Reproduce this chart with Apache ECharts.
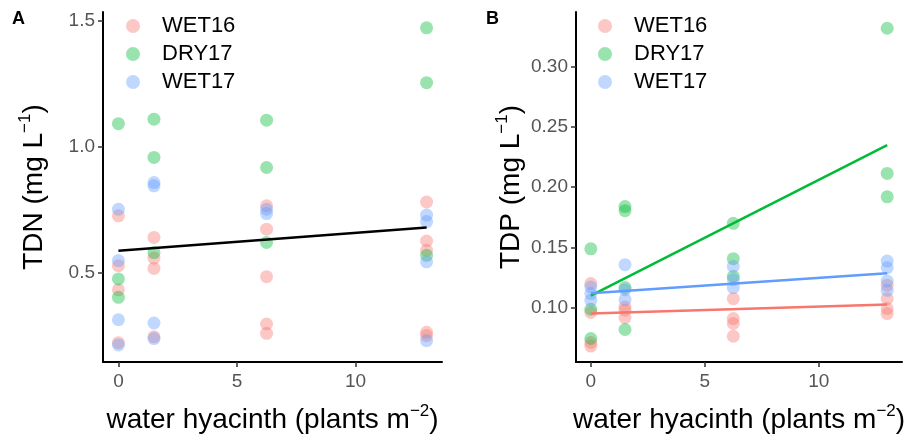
<!DOCTYPE html>
<html>
<head>
<meta charset="utf-8">
<script src="https://cdn.jsdelivr.net/npm/echarts@6/dist/echarts.min.js"></script>
<style>
  html, body { margin: 0; padding: 0; background: #fff; }
  #chart { width: 909px; height: 441px; }
</style>
</head>
<body>
<div id="chart"></div>
<script>
var seasons = ['WET16', 'DRY17', 'WET17'];
var colors = ['rgba(248,118,109,0.5)', 'rgba(0,186,56,0.5)', 'rgba(97,156,255,0.5)'];
var lineColors = ['#F8766D', '#00BA38', '#619CFF'];

// plants m-2 : 0, 1.5, 6.25, 13
var xTicks = [0, 5, 10];

// panel A, TDN (mg/L), [density, value]
var tdnWet16 = [[0,0.726],[0,0.528],[0,0.432],[0,0.222],
                [1.5,0.640],[1.5,0.558],[1.5,0.517],[1.5,0.245],
                [6.25,0.766],[6.25,0.673],[6.25,0.484],[6.25,0.296],[6.25,0.259],
                [13,0.781],[13,0.626],[13,0.589],[13,0.263],[13,0.250]];
var tdnDry17 = [[0,1.092],[0,0.475],[0,0.402],
                [1.5,1.110],[1.5,0.958],[1.5,0.580],
                [6.25,1.106],[6.25,0.918],[6.25,0.620],
                [13,1.473],[13,1.255],[13,0.569]];
var tdnWet17 = [[0,0.752],[0,0.548],[0,0.313],[0,0.213],
                [1.5,0.858],[1.5,0.845],[1.5,0.300],[1.5,0.238],
                [6.25,0.752],[6.25,0.735],
                [13,0.729],[13,0.703],[13,0.543],[13,0.230]];
var tdnFit = [[0,0.587],[13,0.680]];
var tdnTicks = [0.5, 1.0, 1.5];

// panel B, TDP (mg/L)
var tdpWet16 = [[0,0.120],[0,0.096],[0,0.071],[0,0.068],
                [1.5,0.1005],[1.5,0.0978],[1.5,0.0917],
                [6.25,0.1074],[6.25,0.0909],[6.25,0.0868],[6.25,0.0762],
                [13,0.1185],[13,0.1074],[13,0.0992],[13,0.095]];
var tdpDry17 = [[0,0.1488],[0,0.0986],[0,0.0743],
                [1.5,0.1839],[1.5,0.1805],[1.5,0.1166],[1.5,0.0818],
                [6.25,0.170],[6.25,0.1406],[6.25,0.1259],
                [13,0.332],[13,0.2114],[13,0.192]];
var tdpWet17 = [[0,0.1171],[0,0.1116],[0,0.106],
                [1.5,0.1356],[1.5,0.1149],[1.5,0.1066],
                [6.25,0.1342],[6.25,0.1232],[6.25,0.1166],
                [13,0.1386],[13,0.1331],[13,0.122],[13,0.1143]];
var tdpFitWet16 = [[0,0.0950],[13,0.1026]];
var tdpFitDry17 = [[0,0.1100],[13,0.2350]];
var tdpFitWet17 = [[0,0.1120],[13,0.1286]];
var tdpTicks = [0.10, 0.15, 0.20, 0.25, 0.30];

var FONT = 'Liberation Sans';

var nameRich = {
    a: { fontFamily: FONT, fontSize: 28, color: '#000' },
    s: { fontFamily: FONT, fontSize: 17, color: '#000', padding: [0, 0, 18, 0] }
};

function xAxisFor(gi) {
    return {
        type: 'value', gridIndex: gi, min: -0.65, max: 13.65,
        name: '{a|water hyacinth (plants m}{s|−2}{a|)}',
        nameLocation: 'middle', nameGap: 41,
        nameTextStyle: { rich: nameRich },
        axisLine: { show: true, onZero: false, lineStyle: { color: '#000', width: 2 } },
        axisTick: { show: true, length: 5, lineStyle: { color: '#333', width: 1.5 }, customValues: xTicks },
        axisLabel: { fontFamily: FONT, fontSize: 19, color: '#555', margin: 10, customValues: xTicks },
        splitLine: { show: false }
    };
}

function yAxisFor(gi, label, lo, hi, ticks, digits, gap) {
    return {
        type: 'value', gridIndex: gi, min: lo, max: hi,
        name: '{a|' + label + ' (mg L}{s|−1}{a|)}',
        nameLocation: 'middle', nameGap: gap, nameRotate: 90,
        nameTextStyle: { rich: nameRich },
        axisLine: { show: true, onZero: false, lineStyle: { color: '#000', width: 2 } },
        axisTick: { show: true, length: 5, lineStyle: { color: '#333', width: 1.5 }, customValues: ticks },
        axisLabel: { fontFamily: FONT, fontSize: 19, color: '#555', margin: 8, customValues: ticks,
                     formatter: function (v) { return v.toFixed(digits); } },
        splitLine: { show: false }
    };
}

function pts(name, data, i, gi) {
    return {
        name: name, type: 'scatter', xAxisIndex: gi, yAxisIndex: gi,
        data: data, symbolSize: 13, itemStyle: { color: colors[i] }
    };
}

function fit(name, data, color, gi) {
    return {
        name: name, type: 'line', xAxisIndex: gi, yAxisIndex: gi, data: data,
        symbol: 'none', lineStyle: { color: color, width: 2.5 }, silent: true, z: 3
    };
}

function legendAt(left) {
    return {
        data: seasons, orient: 'vertical', left: left, top: 10,
        icon: 'circle', itemWidth: 48, itemHeight: 14, itemGap: 6,
        textStyle: { fontFamily: FONT, fontSize: 22, color: '#000' }
    };
}

var chart = echarts.init(document.getElementById('chart'));
var option = {
    backgroundColor: '#fff',
    animation: false,
    title: [
        { text: 'A', left: 7, top: 5, textStyle: { fontFamily: FONT, fontSize: 18, fontWeight: 'bold', color: '#000' } },
        { text: 'B', left: 481, top: 5, textStyle: { fontFamily: FONT, fontSize: 18, fontWeight: 'bold', color: '#000' } }
    ],
    legend: [legendAt(121), legendAt(593)],
    grid: [
        { left: 103, right: 467, top: 12, bottom: 79 },
        { left: 576, right: 7, top: 12, bottom: 79 }
    ],
    xAxis: [xAxisFor(0), xAxisFor(1)],
    yAxis: [
        yAxisFor(0, 'TDN', 0.145, 1.536, tdnTicks, 1, 51),
        yAxisFor(1, 'TDP', 0.0548, 0.3455, tdpTicks, 2, 47)
    ],
    series: [
        pts('WET16', tdnWet16, 0, 0),
        pts('DRY17', tdnDry17, 1, 0),
        pts('WET17', tdnWet17, 2, 0),
        fit('TDN fit', tdnFit, '#000', 0),
        pts('WET16', tdpWet16, 0, 1),
        pts('DRY17', tdpDry17, 1, 1),
        pts('WET17', tdpWet17, 2, 1),
        fit('WET16 fit', tdpFitWet16, lineColors[0], 1),
        fit('DRY17 fit', tdpFitDry17, lineColors[1], 1),
        fit('WET17 fit', tdpFitWet17, lineColors[2], 1)
    ]
};
chart.setOption(option);
</script>
</body>
</html>
